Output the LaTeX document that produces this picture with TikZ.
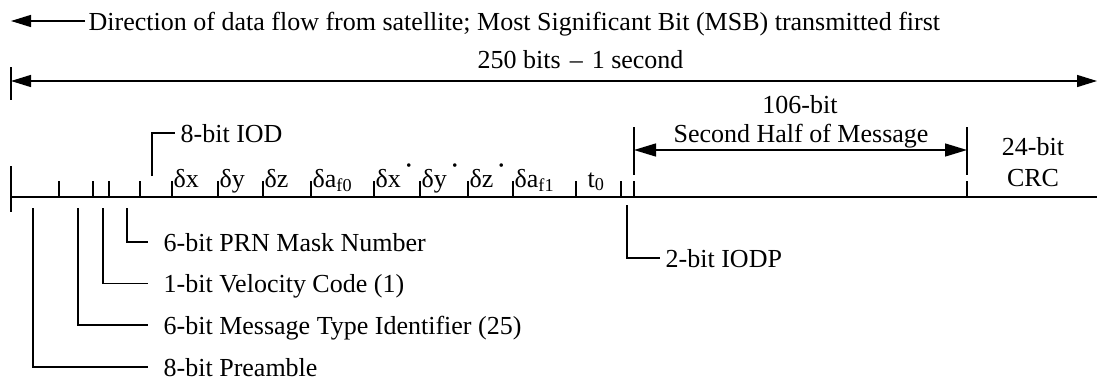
\documentclass[tikz,border=0pt]{standalone}
\usepackage{fontspec}
\setmainfont{Liberation Serif}
\usetikzlibrary{arrows.meta}
\newcommand{\rdot}{\hspace{3pt}\raisebox{12pt}{\fontsize{30}{30}\selectfont ·}}
\begin{document}
\begin{tikzpicture}[x=1pt,y=-1pt, line width=1.4pt,
  font=\fontsize{26}{30}\selectfont,
  lbl/.style={inner sep=0pt, anchor=base west},
  leader/.style={anchor=west, inner ysep=0pt, text height=18pt, text depth=0pt},
  tip/.style={-{Triangle[length=20pt,width=12pt]}},
  dtip/.style={{Triangle[length=20pt,width=12pt]}-{Triangle[length=20pt,width=12pt]}},
  mainline/.style={line width=2.2pt}]
\useasboundingbox (0,0) rectangle (1097,383);

% direction of data flow
\node[leader, inner xsep=3pt] (dir) at (85,21) {Direction of data flow from satellite; Most Significant Bit (MSB) transmitted first};
\coordinate (dirEnd) at (11,21);
\draw[tip] (dir.west) -- (dirEnd);

% 250 bits
\coordinate (fT) at (11,67);
\coordinate (fB) at (11,100);
\coordinate (fL) at (11,81);
\coordinate (fR) at (1097,81);
\draw (fT) -- (fB);
\draw[dtip] (fL) -- (fR);
\node[lbl] (total) at (477,68) {250 bits\hspace{9pt}–\hspace{9pt}1 second};

% main line
\coordinate (mL) at (11,197);
\coordinate (mR) at (1097,197);
\draw[mainline] (mL) -- (mR);
\draw (11,166) -- (11,212);
\foreach \t in {59,93,109,140,172,218,263,311,374,420,468,513,576,621,634,967}
  \draw (\t,181) -- (\t,197);

% field labels
\node[lbl] (dx)  at (173,187) {δx};
\node[lbl] (dy)  at (219,187) {δy};
\node[lbl] (dz)  at (264,187) {δz};
\node[lbl] (da0) at (312,187) {δa\textsubscript{f0}};
\node[lbl] (dxd) at (375,187) {δx\rdot};
\node[lbl] (dyd) at (421,187) {δy\rdot};
\node[lbl] (dzd) at (469,187) {δz\rdot};
\node[lbl] (da1) at (514,187) {δa\textsubscript{f1}};
\node[inner sep=0pt, anchor=base] (t0) at (596,187) {t\textsubscript{0}};

% IOD
\node[leader, inner xsep=5pt] (iod) at (175,133) {8-bit IOD};
\coordinate (iodS) at (152,176);
\draw (iodS) |- (iod.west);

% second half
\draw (634,127) -- (634,175);
\draw (967,127) -- (967,175);
\coordinate (shL) at (634,150);
\coordinate (shR) at (967,150);
\draw[{Triangle[length=22pt,width=13pt]}-{Triangle[length=22pt,width=13pt]}] (shL) -- (shR);
\node[inner sep=0pt, anchor=base] (sh) at (801,142) {Second Half of Message};
\node[inner sep=0pt, anchor=base] (sh106) at (800,113) {106-bit};
\node[inner sep=0pt, anchor=base] (crc1) at (1033,155) {24-bit};
\node[inner sep=0pt, anchor=base] (crc2) at (1033,186) {CRC};

% lower leaders
\node[leader, inner xsep=15pt] (prn) at (148,242) {6-bit PRN Mask Number};
\node[leader, inner xsep=15pt] (vel) at (148,283.5) {1-bit Velocity Code (1)};
\node[leader, inner xsep=15pt] (mti) at (148,325) {6-bit Message Type Identifier (25)};
\node[leader, inner xsep=15pt] (pre) at (148,367) {8-bit Preamble};
\node[leader, inner xsep=5pt] (iodp) at (660,258) {2-bit IODP};
\coordinate (prnS) at (127,208);
\coordinate (velS) at (103,208);
\coordinate (mtiS) at (78,208);
\coordinate (preS) at (33,208);
\coordinate (iodpS) at (627,205);
\draw (prnS) |- (prn.west);
\draw (velS) |- (vel.west);
\draw (mtiS) |- (mti.west);
\draw (preS) |- (pre.west);
\draw (iodpS) |- (iodp.west);
\end{tikzpicture}
\end{document}
